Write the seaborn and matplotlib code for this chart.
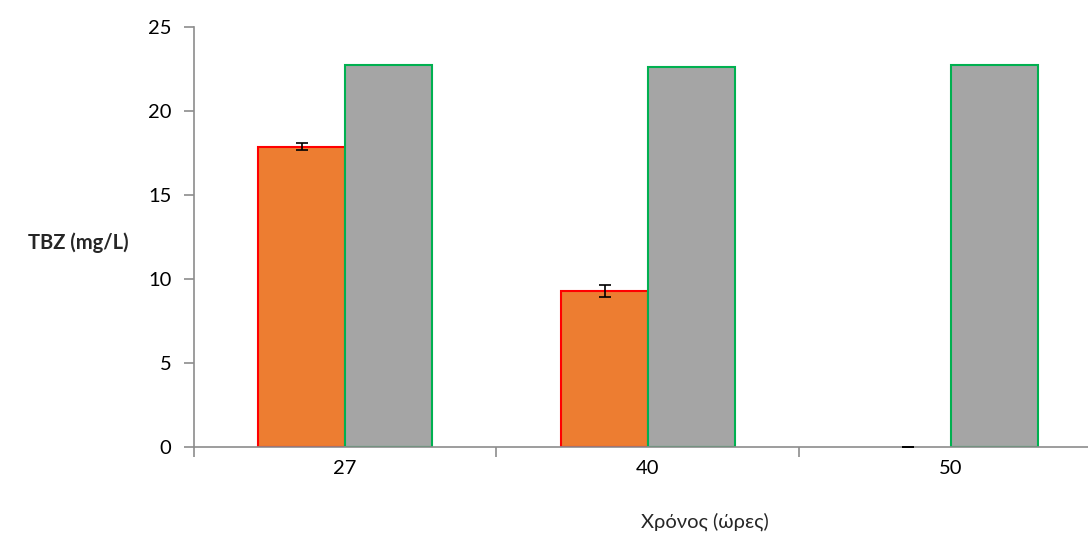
import matplotlib
matplotlib.use("Agg")
import matplotlib.pyplot as plt
from matplotlib.ticker import FixedLocator, NullFormatter
import seaborn as sns
import pandas as pd
import numpy as np

# Sampling times (hours) and TBZ concentrations (mg/L)
times = ["27", "40", "50"]
series_names = ["treated", "control"]
treated = [17.87, 9.30, 0.0]
treated_err = [0.22, 0.36, 0.0]
control = [22.74, 22.64, 22.74]

fill_colors = ["#ED7D31", "#A5A5A5"]
edge_colors = ["#FF0000", "#00B050"]

df = pd.DataFrame({
    "time": times * 2,
    "series": [series_names[0]] * 3 + [series_names[1]] * 3,
    "value": treated + control,
})

sns.set_theme(style="white")
plt.rcParams["font.family"] = ["Lato", "DejaVu Sans"]

fig = plt.figure(figsize=(10.88, 5.33), dpi=100)
W, H = 1088, 533
left, right, top, bottom = 193.5, 1102.5, 27.0, 447.0
ax = fig.add_axes([left / W, 1 - bottom / H, (right - left) / W, (bottom - top) / H])

sns.barplot(data=df, x="time", y="value", hue="series", order=times,
            hue_order=series_names, palette=fill_colors, width=0.572,
            errorbar=None, legend=False, ax=ax, saturation=1)

# Style the bars per series and attach error bars to the treated series
n = len(times)
for i, patch in enumerate(ax.patches[:2 * n]):
    s = i // n
    k = i % n
    height = patch.get_height()
    patch.set_edgecolor(edge_colors[s] if height > 0 else "none")
    patch.set_linewidth(1.5)
    if s == 0:
        cx = patch.get_x() + patch.get_width() / 2
        ax.errorbar(cx, treated[k], yerr=treated_err[k], color="black",
                    capsize=4.5, elinewidth=1.2, capthick=1.2, zorder=5,
                    clip_on=False)

ax.set_xlim(-0.5, 2.5)
ax.set_ylim(0, 25)
ax.set_yticks([0, 5, 10, 15, 20, 25])

for side in ["top", "right"]:
    ax.spines[side].set_visible(False)
for side in ["left", "bottom"]:
    ax.spines[side].set_color("#8C8C8C")
    ax.spines[side].set_linewidth(1.2)

ax.xaxis.set_minor_locator(FixedLocator([-0.5, 0.5, 1.5, 2.5]))
ax.xaxis.set_minor_formatter(NullFormatter())
ax.tick_params(axis="x", which="major", bottom=True, length=0, labelsize=14.5,
               pad=9, colors="black")
ax.tick_params(axis="x", which="minor", bottom=True, length=7, width=1.2,
               color="#8C8C8C", direction="out")
ax.tick_params(axis="y", which="major", left=True, length=7, width=1.2,
               color="#8C8C8C", direction="out", labelsize=14.5, pad=9,
               labelcolor="black")

ax.set_xlabel("")
ax.set_ylabel("")
fig.text(705 / W, 1 - 522 / H, "Χρόνος (ώρες)", ha="center", va="center", fontsize=14.5)
fig.text(78 / W, 1 - 243 / H, "TBZ (mg/L)", ha="center", va="center",
         fontsize=14.5, fontweight="bold")

fig.savefig("out.png", dpi=100, facecolor="white")
